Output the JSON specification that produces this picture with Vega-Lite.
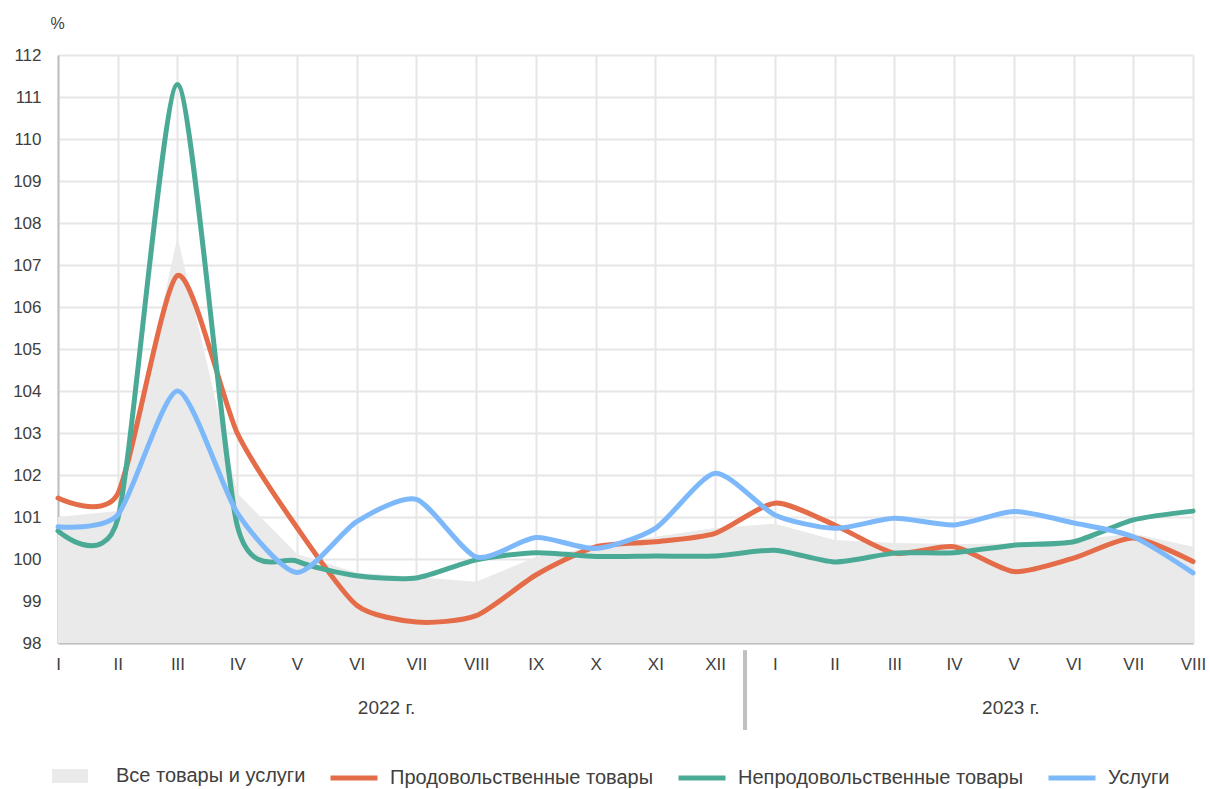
{
  "$schema": "https://vega.github.io/schema/vega-lite/v6.json",
  "width": 1135,
  "height": 588,
  "autosize": "none",
  "padding": {"left": 58, "top": 55, "right": 17, "bottom": 146},
  "background": "white",
  "config": {
    "font": "Liberation Sans",
    "view": {"stroke": null},
    "axis": {"labelColor": "#404040", "labelFont": "Liberation Sans"},
    "legend": {"labelFont": "Liberation Sans"}
  },
  "datasets": {
    "all": [
      {"idx": 0, "value": 101.0}, {"idx": 1, "value": 101.14}, {"idx": 2, "value": 107.67}, {"idx": 3, "value": 101.57},
      {"idx": 4, "value": 100.12}, {"idx": 5, "value": 99.67}, {"idx": 6, "value": 99.57}, {"idx": 7, "value": 99.46},
      {"idx": 8, "value": 100.05}, {"idx": 9, "value": 100.29}, {"idx": 10, "value": 100.53}, {"idx": 11, "value": 100.74},
      {"idx": 12, "value": 100.84}, {"idx": 13, "value": 100.45}, {"idx": 14, "value": 100.38}, {"idx": 15, "value": 100.36},
      {"idx": 16, "value": 100.37}, {"idx": 17, "value": 100.45}, {"idx": 18, "value": 100.61}, {"idx": 19, "value": 100.29}
    ],
    "lines": [
      {"idx": 0, "series": "Продовольственные товары", "value": 101.45},
      {"idx": 1, "series": "Продовольственные товары", "value": 101.55},
      {"idx": 2, "series": "Продовольственные товары", "value": 106.75},
      {"idx": 3, "series": "Продовольственные товары", "value": 103.0},
      {"idx": 4, "series": "Продовольственные товары", "value": 100.75},
      {"idx": 5, "series": "Продовольственные товары", "value": 98.9},
      {"idx": 6, "series": "Продовольственные товары", "value": 98.5},
      {"idx": 7, "series": "Продовольственные товары", "value": 98.65},
      {"idx": 8, "series": "Продовольственные товары", "value": 99.62},
      {"idx": 9, "series": "Продовольственные товары", "value": 100.29},
      {"idx": 10, "series": "Продовольственные товары", "value": 100.41},
      {"idx": 11, "series": "Продовольственные товары", "value": 100.61},
      {"idx": 12, "series": "Продовольственные товары", "value": 101.33},
      {"idx": 13, "series": "Продовольственные товары", "value": 100.81},
      {"idx": 14, "series": "Продовольственные товары", "value": 100.14},
      {"idx": 15, "series": "Продовольственные товары", "value": 100.29},
      {"idx": 16, "series": "Продовольственные товары", "value": 99.7},
      {"idx": 17, "series": "Продовольственные товары", "value": 100.02},
      {"idx": 18, "series": "Продовольственные товары", "value": 100.5},
      {"idx": 19, "series": "Продовольственные товары", "value": 99.94},
      {"idx": 0, "series": "Непродовольственные товары", "value": 100.67},
      {"idx": 1, "series": "Непродовольственные товары", "value": 100.95},
      {"idx": 2, "series": "Непродовольственные товары", "value": 111.3},
      {"idx": 3, "series": "Непродовольственные товары", "value": 100.8},
      {"idx": 4, "series": "Непродовольственные товары", "value": 99.95},
      {"idx": 5, "series": "Непродовольственные товары", "value": 99.6},
      {"idx": 6, "series": "Непродовольственные товары", "value": 99.55},
      {"idx": 7, "series": "Непродовольственные товары", "value": 99.98},
      {"idx": 8, "series": "Непродовольственные товары", "value": 100.15},
      {"idx": 9, "series": "Непродовольственные товары", "value": 100.06},
      {"idx": 10, "series": "Непродовольственные товары", "value": 100.07},
      {"idx": 11, "series": "Непродовольственные товары", "value": 100.07},
      {"idx": 12, "series": "Непродовольственные товары", "value": 100.21},
      {"idx": 13, "series": "Непродовольственные товары", "value": 99.93},
      {"idx": 14, "series": "Непродовольственные товары", "value": 100.14},
      {"idx": 15, "series": "Непродовольственные товары", "value": 100.15},
      {"idx": 16, "series": "Непродовольственные товары", "value": 100.33},
      {"idx": 17, "series": "Непродовольственные товары", "value": 100.41},
      {"idx": 18, "series": "Непродовольственные товары", "value": 100.93},
      {"idx": 19, "series": "Непродовольственные товары", "value": 101.14},
      {"idx": 0, "series": "Услуги", "value": 100.77},
      {"idx": 1, "series": "Услуги", "value": 101.05},
      {"idx": 2, "series": "Услуги", "value": 104.0},
      {"idx": 3, "series": "Услуги", "value": 101.1},
      {"idx": 4, "series": "Услуги", "value": 99.68},
      {"idx": 5, "series": "Услуги", "value": 100.89},
      {"idx": 6, "series": "Услуги", "value": 101.42},
      {"idx": 7, "series": "Услуги", "value": 100.05},
      {"idx": 8, "series": "Услуги", "value": 100.51},
      {"idx": 9, "series": "Услуги", "value": 100.25},
      {"idx": 10, "series": "Услуги", "value": 100.73},
      {"idx": 11, "series": "Услуги", "value": 102.04},
      {"idx": 12, "series": "Услуги", "value": 101.05},
      {"idx": 13, "series": "Услуги", "value": 100.73},
      {"idx": 14, "series": "Услуги", "value": 100.97},
      {"idx": 15, "series": "Услуги", "value": 100.81},
      {"idx": 16, "series": "Услуги", "value": 101.13},
      {"idx": 17, "series": "Услуги", "value": 100.86},
      {"idx": 18, "series": "Услуги", "value": 100.53},
      {"idx": 19, "series": "Услуги", "value": 99.67}
    ],
    "sep": [{"x": 11.5, "y1": 97.83, "y2": 95.93}],
    "years": [{"x": 5.5, "y": 96.45, "label": "2022 г."}, {"x": 15.95, "y": 96.45, "label": "2023 г."}]
  },
  "layer": [
    {
      "data": {"name": "all"},
      "mark": {"type": "area", "interpolate": "linear"},
      "encoding": {
        "x": {"field": "idx", "type": "quantitative",
          "scale": {"domain": [0, 19], "nice": false, "zero": false},
          "axis": {"values": [0,1,2,3,4,5,6,7,8,9,10,11,12,13,14,15,16,17,18,19],
            "labelExpr": "['I','II','III','IV','V','VI','VII','VIII','IX','X','XI','XII','I','II','III','IV','V','VI','VII','VIII'][datum.value]",
            "title": null, "ticks": false, "labelPadding": 13, "labelFontSize": 17, "labelFlush": false,
            "domainColor": "#bfbfbf", "domainWidth": 2, "grid": true, "gridColor": "#e6e6e6", "gridWidth": 2}},
        "y": {"field": "value", "type": "quantitative",
          "scale": {"domain": [98, 112], "nice": false, "zero": false},
          "axis": {"values": [98,99,100,101,102,103,104,105,106,107,108,109,110,111,112],
            "title": "%", "titleAngle": 0, "titleAlign": "left", "titleBaseline": "alphabetic",
            "titleX": -8, "titleY": -27, "titleFontSize": 16, "titleFontWeight": "normal", "titleColor": "#404040",
            "ticks": false, "labelPadding": 17, "labelFontSize": 17, "labelFlush": false,
            "domainColor": "#bfbfbf", "domainWidth": 2, "grid": true, "gridColor": "#e6e6e6", "gridWidth": 2}},
        "y2": {"datum": 98},
        "fill": {"datum": "Все товары и услуги", "type": "nominal",
          "scale": {"domain": ["Все товары и услуги"], "range": ["#eaeaea"]},
          "legend": {"title": null, "orient": "none", "legendX": -6, "legendY": 703, "padding": 0,
            "symbolType": "M-1,-0.39H1V0.39H-1Z", "symbolSize": 1296, "symbolStrokeWidth": 0,
            "labelFontSize": 20, "labelColor": "#404040", "labelOffset": 28, "labelLimit": 400, "labelBaseline": "middle"}}
      }
    },
    {
      "data": {"name": "lines"},
      "mark": {"type": "line", "interpolate": "cardinal", "tension": 0.3, "strokeWidth": 5, "strokeCap": "round"},
      "encoding": {
        "x": {"field": "idx", "type": "quantitative"},
        "y": {"field": "value", "type": "quantitative"},
        "stroke": {"field": "series", "type": "nominal",
          "scale": {"domain": ["Продовольственные товары", "Непродовольственные товары", "Услуги"],
            "range": ["#e46c48", "#4baa96", "#7db9fa"]},
          "legend": {"title": null, "orient": "none", "direction": "horizontal", "legendX": 270, "legendY": 697, "padding": 0,
            "symbolType": "stroke", "symbolSize": 2209, "symbolStrokeWidth": 5,
            "labelFontSize": 20, "labelColor": "#404040", "labelOffset": 10, "columnPadding": 14, "labelLimit": 400, "labelBaseline": "middle"}}
      }
    },
    {
      "data": {"name": "sep"},
      "mark": {"type": "rule", "color": "#c0c0c0", "strokeWidth": 4},
      "encoding": {
        "x": {"field": "x", "type": "quantitative"},
        "y": {"field": "y1", "type": "quantitative"},
        "y2": {"field": "y2"}
      }
    },
    {
      "data": {"name": "years"},
      "mark": {"type": "text", "fontSize": 19, "color": "#404040", "baseline": "middle", "align": "center"},
      "encoding": {
        "x": {"field": "x", "type": "quantitative"},
        "y": {"field": "y", "type": "quantitative"},
        "text": {"field": "label"}
      }
    }
  ]
}
